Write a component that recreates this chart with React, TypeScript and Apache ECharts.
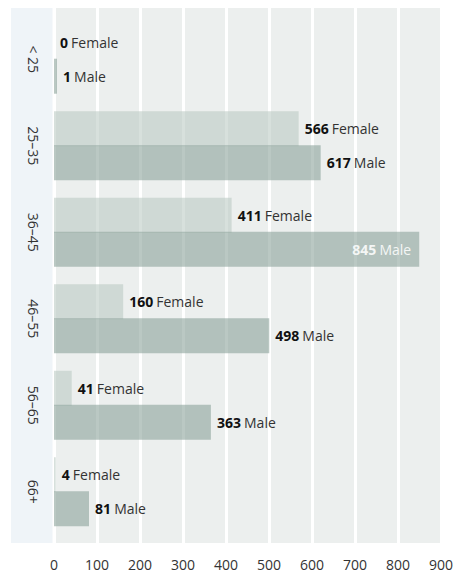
import React, { useEffect, useRef } from "react";
import * as echarts from "echarts";

const categories = ["< 25", "25–35", "36–45", "46–55", "56–65", "66+"];
const female = [0, 566, 411, 160, 41, 4];
const male = [1, 617, 845, 498, 363, 81];
const xTicks = [0, 100, 200, 300, 400, 500, 600, 700, 800, 900];
const insideLabelMale = [845];

const FONT = "'Open Sans', sans-serif";

export default function App() {
  const ref = useRef<HTMLDivElement>(null);
  useEffect(() => {
    if (!ref.current) return;
    const chart = echarts.init(ref.current, null, { renderer: "svg" });
    const xMin = xTicks[0];
    const xMax = xTicks[xTicks.length - 1];
    const interval = xTicks[1] - xTicks[0];

    const rich = (inside: boolean) => ({
      v: { fontFamily: FONT, fontSize: 14, fontWeight: 700, color: inside ? "#f4f6f5" : "#111" },
      n: { fontFamily: FONT, fontSize: 14, fontWeight: 400, color: inside ? "#f4f6f5" : "#333" },
    });

    const mkData = (vals: number[], insideVals: number[]) =>
      vals.map((v) =>
        insideVals.includes(v)
          ? {
              value: v,
              label: {
                position: "insideRight",
                distance: 8,
                rich: rich(true),
              },
            }
          : v
      );

    const option: any = {
      animation: false,
      textStyle: { fontFamily: FONT },
      graphic: [
        {
          type: "rect",
          z: -10,
          shape: { x: 11, y: 8, width: 41.5, height: 535 },
          style: { fill: "#eff4f8" },
        },
      ],
      grid: [
        {
          left: 54,
          top: 8,
          width: 389,
          height: 535,
          show: true,
          backgroundColor: "#ecefee",
          borderWidth: 0,
        },
        { left: 54, top: 16, width: 389, height: 519 },
      ],
      xAxis: [
        {
          type: "value",
          gridIndex: 0,
          min: xMin,
          max: xMax,
          interval,
          axisLine: { show: false },
          axisTick: { show: false },
          splitLine: { show: true, lineStyle: { color: "#ffffff", width: 3 } },
          axisLabel: { fontFamily: FONT, fontSize: 14, color: "#333", margin: 14 },
        },
        {
          type: "value",
          gridIndex: 1,
          min: xMin,
          max: xMax,
          interval,
          show: false,
          splitLine: { show: false },
        },
      ],
      yAxis: [
        {
          type: "category",
          gridIndex: 0,
          data: categories,
          show: false,
        },
        {
          type: "category",
          gridIndex: 1,
          data: categories,
          inverse: true,
          axisLine: { show: false },
          axisTick: { show: false },
          splitLine: { show: false },
          axisLabel: {
            rotate: -90,
            fontFamily: FONT,
            fontSize: 14,
            color: "#333",
            margin: 14,
          },
        },
      ],
      series: [
        {
          name: "Female",
          type: "bar",
          xAxisIndex: 1,
          yAxisIndex: 1,
          barWidth: 35,
          barGap: "-3%",
          itemStyle: { color: "rgba(186,201,195,0.58)" },
          label: {
            show: true,
            position: "right",
            distance: 6,
            formatter: "{v|{c}} {n|Female}",
            rich: rich(false),
          },
          data: mkData(female, []),
        },
        {
          name: "Male",
          type: "bar",
          xAxisIndex: 1,
          yAxisIndex: 1,
          barWidth: 35,
          barGap: "-3%",
          barMinHeight: 3,
          itemStyle: { color: "rgba(136,160,152,0.58)" },
          label: {
            show: true,
            position: "right",
            distance: 6,
            formatter: "{v|{c}} {n|Male}",
            rich: rich(false),
          },
          data: mkData(male, insideLabelMale),
        },
      ],
    };
    chart.setOption(option);
    return () => chart.dispose();
  }, []);
  return (
    <div
      ref={ref}
      style={{ position: "absolute", left: 0, top: 0, width: 456, height: 573 }}
    />
  );
}
